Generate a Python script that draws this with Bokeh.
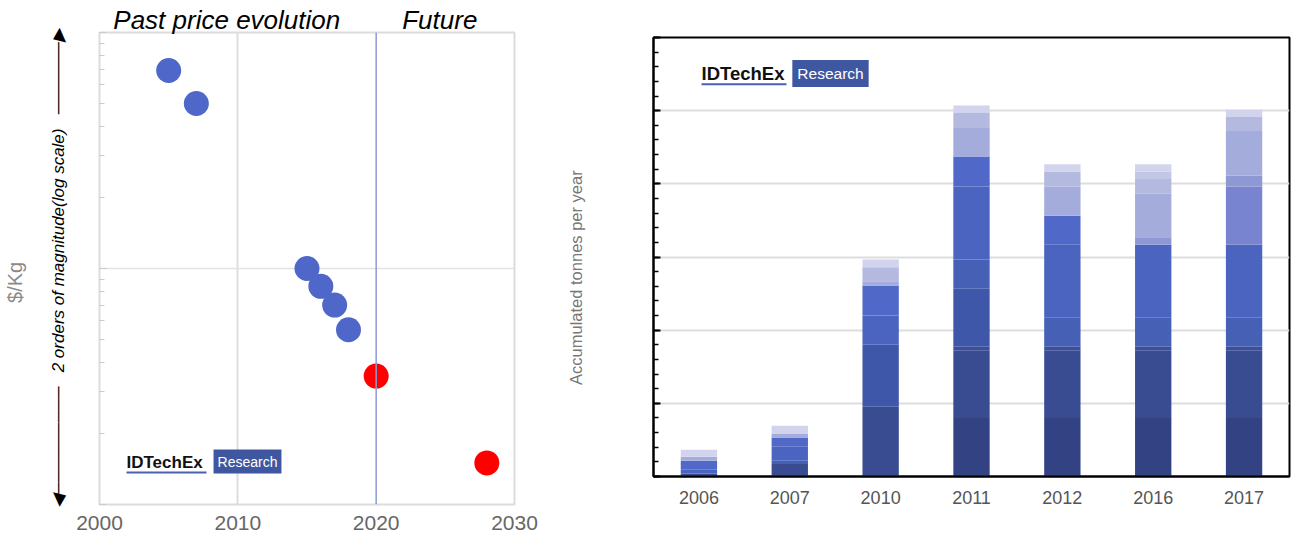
from bokeh.plotting import figure
from bokeh.models import (Label, Arrow, Span, FixedTicker, LogTicker, LogAxis, LinearAxis,
                          FactorRange, Range1d, SingleIntervalTicker, ColumnDataSource)
from bokeh.layouts import row, column
from bokeh.embed import file_html
from bokeh.resources import INLINE

# ---------------- left chart data ----------------
past_years = [2005, 2007, 2015, 2016, 2017, 2018]
past_price = [69, 50, 10, 8.4, 7.0, 5.5]
future_years = [2020, 2028]
future_price = [3.5, 1.5]
x_ticks = [2000, 2010, 2020, 2030]
period_label_pos = [2009.2, 2024.6]
period_labels = ["Past price evolution", "Future"]

# ---------------- right chart data (tonnes, stacked bottom -> top) ----------------
bar_years = ["2006", "2007", "2010", "2011", "2012", "2016", "2017"]
layer_a = [0, 0, 0, 800, 800, 800, 800]
layer_b = [41, 170, 954, 920, 920, 920, 920]
layer_c = [0, 0, 0, 55, 55, 55, 55]
layer_d = [0, 0, 848, 791, 0, 0, 0]
layer_e = [0, 45, 0, 400, 393, 393, 393]
layer_f = [50, 191, 397, 996, 999, 999, 999]
layer_g = [124, 128, 411, 411, 397, 0, 0]
layer_h = [0, 0, 0, 0, 0, 0, 795]
layer_i = [0, 0, 0, 0, 0, 104, 153]
layer_j = [55, 54, 59, 390, 398, 594, 606]
layer_k = [0, 0, 191, 205, 208, 200, 192]
layer_l = [0, 0, 0, 0, 0, 105, 0]
layer_m = [95, 106, 106, 101, 96, 96, 101]
layer_names = ["a", "b", "c", "d", "e", "f", "g", "h", "i", "j", "k", "l", "m"]
layer_colors = ["#324283", "#394c91", "#3b4f9a", "#3f57a8", "#4560b5", "#4a64c0",
                "#5069c9", "#7884d0", "#8e98d4", "#a4acdb", "#b4b9e0", "#c3c7e6", "#d2d4ee"]

FONT = "Liberation Sans"
LOGO_BLUE = "#3f57a0"
NB = "\u00a0"


def hide_labels(ax):
    ax.major_label_text_font_size = "1px"
    ax.major_label_text_alpha = 0
    ax.major_label_standoff = 0


# ================= LEFT FIGURE =================
p1 = figure(width=540, height=539, x_range=(2000, 2030), y_range=(1, 100),
            y_axis_type="log", output_backend="svg", toolbar_location=None,
            min_border_left=98, min_border_right=26, min_border_top=32, min_border_bottom=35)
p1.outline_line_color = "#dcdcdc"
p1.outline_line_width = 2

p1.xaxis.ticker = FixedTicker(ticks=x_ticks)
p1.xaxis.axis_line_color = None
p1.xaxis.major_tick_in = 0
p1.xaxis.major_tick_out = 0
p1.xaxis.minor_tick_line_color = None
p1.xaxis.major_label_text_font = FONT
p1.xaxis.major_label_text_font_size = "21px"
p1.xaxis.major_label_text_color = "#666666"
p1.xaxis.major_label_standoff = 11

# inner y axis: log ticks inside + magnitude note with arrows
p1.yaxis.ticker = LogTicker(num_minor_ticks=10)
p1.yaxis.axis_line_color = "#dcdcdc"
p1.yaxis.major_tick_in = 7
p1.yaxis.major_tick_out = 0
p1.yaxis.minor_tick_in = 5
p1.yaxis.minor_tick_out = 0
p1.yaxis.major_tick_line_color = "#cccccc"
p1.yaxis.minor_tick_line_color = "#cccccc"
hide_labels(p1.yaxis[0])
p1.yaxis.axis_label = ("\u25c0" + "\u2500" * 9 + NB * 3 + "2 orders of magnitude(log scale)"
                       + NB * 3 + "\u2500" * 6 + "\u25b6")
p1.yaxis.axis_label_text_font = FONT
p1.yaxis.axis_label_text_font_size = "17px"
p1.yaxis.axis_label_text_font_style = "italic"
p1.yaxis.axis_label_text_color = "black"
p1.yaxis.axis_label_standoff = 32

# outer y axis: unit label only
unit_axis = LogAxis(ticker=LogTicker(num_minor_ticks=10), axis_label="$/Kg" + NB * 5,
                    axis_line_color=None, major_tick_line_color=None, minor_tick_line_color=None,
                    axis_label_text_font=FONT, axis_label_text_font_size="20px",
                    axis_label_text_font_style="normal", axis_label_text_color="#8a8a8a",
                    axis_label_standoff=14)
hide_labels(unit_axis)
p1.add_layout(unit_axis, "left")

# period titles on an axis above the frame
period_axis = LinearAxis(ticker=FixedTicker(ticks=period_label_pos),
                         major_label_overrides=dict(zip(period_label_pos, period_labels)),
                         axis_line_color=None, major_tick_line_color=None,
                         minor_tick_line_color=None, major_tick_in=0, major_tick_out=0,
                         major_label_text_font=FONT, major_label_text_font_size="26px",
                         major_label_text_font_style="italic", major_label_text_color="black",
                         major_label_standoff=-2)
p1.add_layout(period_axis, "above")

p1.xgrid.ticker = FixedTicker(ticks=[2010])
p1.xgrid.grid_line_color = "#dddddd"
p1.xgrid.grid_line_width = 2
p1.ygrid.ticker = FixedTicker(ticks=[10])
p1.ygrid.grid_line_color = "#e2e2e2"
p1.ygrid.grid_line_width = 1.5

p1.add_layout(Span(location=2020, dimension="height", line_color="#8a9ad6", line_width=1.5))

p1.scatter(past_years, past_price, size=25, color="#4f67c8", line_color=None)
p1.scatter(future_years, future_price, size=25, color="#ff0000", line_color=None)

# logo left
p1.add_layout(Label(x=27, y=42, x_units="screen", y_units="screen", text="IDTechEx",
                    text_font=FONT, text_font_size="17px", text_font_style="bold",
                    text_color="#111111", text_align="left", text_baseline="middle"))
p1.add_layout(Arrow(end=None, x_start=27, y_start=32, x_end=107, y_end=32,
                    start_units="screen", end_units="screen", line_color="#4a5fb0", line_width=2))
p1.add_layout(Label(x=148, y=43, x_units="screen", y_units="screen", text="Research",
                    text_font=FONT, text_font_size="14px", text_color="white",
                    background_fill_color=LOGO_BLUE, padding=4,
                    text_align="center", text_baseline="middle"))

# ================= RIGHT FIGURE =================
src = ColumnDataSource(dict(year=bar_years, a=layer_a, b=layer_b, c=layer_c, d=layer_d,
                            e=layer_e, f=layer_f, g=layer_g, h=layer_h, i=layer_i,
                            j=layer_j, k=layer_k, l=layer_l, m=layer_m))

p2 = figure(width=751, height=539, x_range=FactorRange(*bar_years), y_range=Range1d(0, 6000),
            output_backend="svg", toolbar_location=None,
            min_border_left=113, min_border_right=2, min_border_top=37, min_border_bottom=63)
p2.outline_line_color = "black"
p2.outline_line_width = 2

p2.vbar_stack(layer_names, x="year", width=0.4, color=layer_colors, line_color=None, source=src)

p2.xgrid.grid_line_color = None
p2.ygrid.ticker = SingleIntervalTicker(interval=1000)
p2.ygrid.grid_line_color = "#dddddd"
p2.ygrid.grid_line_width = 2

p2.yaxis.ticker = SingleIntervalTicker(interval=1000, num_minor_ticks=5)
p2.yaxis.axis_line_color = "black"
p2.yaxis.axis_line_width = 2
p2.yaxis.major_tick_in = 7
p2.yaxis.major_tick_out = 0
p2.yaxis.minor_tick_in = 5
p2.yaxis.minor_tick_out = 0
p2.yaxis.major_tick_line_color = "black"
p2.yaxis.minor_tick_line_color = "black"
p2.yaxis.major_tick_line_width = 2
p2.yaxis.minor_tick_line_width = 1.5
hide_labels(p2.yaxis[0])
p2.yaxis.axis_label = "Accumulated tonnes per year" + NB * 9
p2.yaxis.axis_label_text_font = FONT
p2.yaxis.axis_label_text_font_size = "16.5px"
p2.yaxis.axis_label_text_font_style = "normal"
p2.yaxis.axis_label_text_color = "#777777"
p2.yaxis.axis_label_standoff = 69

p2.xaxis.axis_line_color = "black"
p2.xaxis.axis_line_width = 2
p2.xaxis.major_tick_line_color = None
p2.xaxis.major_tick_in = 0
p2.xaxis.major_tick_out = 0
p2.xaxis.major_label_text_font = FONT
p2.xaxis.major_label_text_font_size = "18px"
p2.xaxis.major_label_text_color = "#555555"
p2.xaxis.major_label_standoff = 14

# logo right
p2.add_layout(Label(x=48, y=403.2, x_units="screen", y_units="screen", text="IDTechEx",
                    text_font=FONT, text_font_size="18.5px", text_font_style="bold",
                    text_color="#111111", text_align="left", text_baseline="middle"))
p2.add_layout(Arrow(end=None, x_start=48, y_start=392.2, x_end=133, y_end=392.2,
                    start_units="screen", end_units="screen", line_color="#4a5fb0", line_width=2))
p2.add_layout(Label(x=177, y=403, x_units="screen", y_units="screen", text="Research",
                    text_font=FONT, text_font_size="15.5px", text_color="white",
                    background_fill_color=LOGO_BLUE, padding=5,
                    text_align="center", text_baseline="middle"))

layout = row(column(p1), column(p2))
open("out.html", "w").write(file_html(layout, INLINE))
